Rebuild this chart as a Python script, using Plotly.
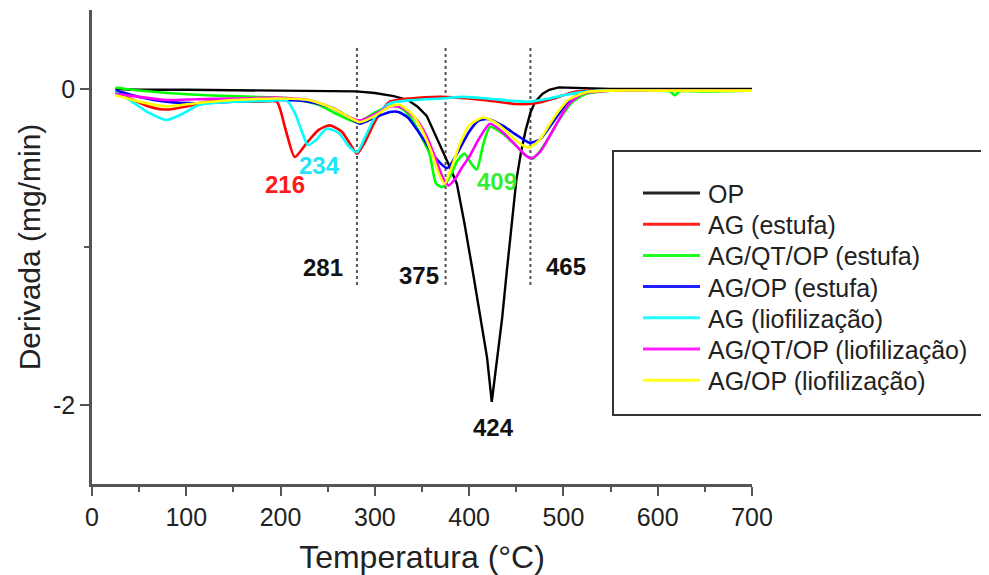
import plotly.graph_objects as go

# ---------------- data ----------------
temp_op = [25, 50, 100, 150, 200, 250, 280, 300, 320, 335, 345, 355, 365, 372, 380, 387,
           395, 404, 412, 419, 424, 428, 435, 440, 445, 450, 455, 460, 465, 470, 478, 485,
           495, 550, 600, 650, 700]
deriv_op = [0.0, -0.005, -0.005, -0.008, -0.008, -0.01, -0.015, -0.025, -0.045, -0.07, -0.11,
            -0.17, -0.3, -0.39, -0.5, -0.6, -0.85, -1.16, -1.45, -1.7, -1.98, -1.8, -1.45,
            -1.15, -0.85, -0.58, -0.4, -0.26, -0.15, -0.08, -0.03, -0.005, 0.01, 0.0, 0.0,
            0.0, 0.0]

temp_ag_est = [25, 40, 60, 79, 100, 122, 150, 180, 196, 205, 215, 228, 240, 252, 265, 275,
               281, 290, 298, 308, 316, 337, 370, 400, 430, 450, 470, 490, 510, 530, 560,
               600, 650, 700]
deriv_ag_est = [-0.02, -0.06, -0.11, -0.13, -0.11, -0.08, -0.08, -0.08, -0.08, -0.25, -0.43,
                -0.34, -0.26, -0.23, -0.27, -0.36, -0.41, -0.33, -0.23, -0.13, -0.08, -0.06,
                -0.05, -0.06, -0.08, -0.095, -0.09, -0.06, -0.02, -0.01, -0.01, -0.01, -0.01,
                -0.01]

temp_agqtop_est = [25, 50, 80, 122, 170, 210, 240, 260, 281, 300, 319, 330, 340, 350, 358,
                   365, 372, 380, 388, 395, 402, 408, 415, 422, 435, 450, 460, 468, 480, 495,
                   510, 524, 550, 600, 613, 618, 623, 650, 700]
deriv_agqtop_est = [0.01, -0.01, -0.025, -0.04, -0.05, -0.06, -0.1, -0.16, -0.21, -0.15, -0.1,
                    -0.13, -0.2, -0.31, -0.41, -0.6, -0.62, -0.55, -0.45, -0.41, -0.47, -0.51,
                    -0.35, -0.24, -0.28, -0.36, -0.42, -0.44, -0.35, -0.2, -0.08, -0.03, -0.01,
                    -0.01, -0.015, -0.04, -0.015, -0.015, -0.01]

temp_agop_est = [25, 50, 79, 110, 150, 200, 230, 255, 270, 284, 300, 316, 325, 335, 345, 355,
                 365, 377, 388, 400, 410, 419, 435, 450, 464, 475, 490, 505, 520, 550, 600,
                 650, 700]
deriv_agop_est = [-0.01, -0.05, -0.08, -0.09, -0.08, -0.07, -0.08, -0.12, -0.17, -0.22, -0.18,
                  -0.145, -0.145, -0.18, -0.26, -0.35, -0.44, -0.5, -0.4, -0.27, -0.2, -0.19,
                  -0.23, -0.29, -0.34, -0.32, -0.2, -0.08, -0.02, -0.01, -0.01, -0.01, -0.01]

temp_ag_lio = [25, 40, 60, 79, 95, 114, 150, 190, 206, 215, 222, 229, 238, 249, 262, 272, 281,
               290, 300, 316, 340, 370, 393, 420, 445, 464, 485, 500, 520, 540, 600, 650, 700]
deriv_ag_lio = [-0.02, -0.07, -0.15, -0.196, -0.16, -0.1, -0.08, -0.075, -0.07, -0.15, -0.26,
                -0.355, -0.32, -0.25, -0.28, -0.36, -0.4, -0.3, -0.18, -0.09, -0.07, -0.06,
                -0.05, -0.06, -0.075, -0.08, -0.06, -0.04, -0.02, -0.01, -0.01, -0.01, -0.01]

temp_agqtop_lio = [25, 50, 79, 110, 150, 200, 230, 255, 270, 284, 300, 316, 330, 345, 355,
                   365, 372, 378, 385, 392, 400, 410, 422, 435, 450, 460, 466, 475, 490, 505,
                   520, 550, 600, 650, 700]
deriv_agqtop_lio = [-0.03, -0.05, -0.07, -0.065, -0.06, -0.055, -0.07, -0.12, -0.17, -0.2,
                    -0.16, -0.11, -0.12, -0.2, -0.3, -0.45, -0.56, -0.61, -0.57, -0.5, -0.43,
                    -0.32, -0.22, -0.27, -0.36, -0.42, -0.44, -0.4, -0.25, -0.1, -0.03, -0.01,
                    -0.01, -0.01, -0.01]

temp_agop_lio = [25, 50, 79, 110, 150, 200, 230, 255, 270, 284, 300, 316, 326, 340, 350, 360,
                 368, 374, 380, 390, 400, 415, 430, 445, 455, 464, 475, 490, 505, 524, 550,
                 600, 650, 700]
deriv_agop_lio = [-0.04, -0.08, -0.11, -0.09, -0.07, -0.06, -0.07, -0.12, -0.17, -0.21, -0.17,
                  -0.11, -0.1, -0.16, -0.26, -0.4, -0.54, -0.6, -0.52, -0.35, -0.23, -0.18,
                  -0.22, -0.3, -0.35, -0.37, -0.32, -0.18, -0.07, -0.02, -0.01, -0.01, -0.01,
                  -0.01]

series_names = ["OP", "AG (estufa)", "AG/QT/OP (estufa)", "AG/OP (estufa)",
                "AG (liofilização)", "AG/QT/OP (liofilização)", "AG/OP (liofilização)"]
series_colors = ["#000000", "#ff0000", "#00ff00", "#0000ff", "#00ffff", "#ff00ff", "#ffff00"]
legend_colors = ["#222222", "#ff2020", "#20ff20", "#2020ff", "#20ffff", "#ff20ff", "#ffff20"]
series_temps = [temp_op, temp_ag_est, temp_agqtop_est, temp_agop_est, temp_ag_lio,
                temp_agqtop_lio, temp_agop_lio]
series_derivs = [deriv_op, deriv_ag_est, deriv_agqtop_est, deriv_agop_est, deriv_ag_lio,
                 deriv_agqtop_lio, deriv_agop_lio]

peak_lines = [281, 375, 465]
label_texts = ["216", "234", "409", "281", "375", "465", "424"]
label_x = [204.6, 241.7, 429.3, 244.9, 346.7, 502.5, 426.2]
label_y = [-0.606, -0.486, -0.587, -1.131, -1.181, -1.124, -2.141]
label_colors = ["#ff1a1a", "#22e5f5", "#33ee33", "#111111", "#111111", "#111111", "#111111"]

y_tickvals = [-2, 0]
y_ticktext = ["-2", "0"]

FONT = "Liberation Sans, Arial, sans-serif"

# page is offset by the 8px default body margin
OFF = 8
PL, PR, PT, PB = 92, 752, 10, 484          # plot area in page pixels


def px_x(p):
    return (p - PL) / (PR - PL)


def px_y(p):
    return (PB - p) / (PB - PT)


fig = go.Figure()
for name, col, tx, dy in zip(series_names, series_colors, series_temps, series_derivs):
    fig.add_trace(go.Scatter(
        x=tx, y=dy, name=name, mode="lines",
        line=dict(color=col, width=2.6 if name != "OP" else 2.4,
                  shape="linear" if name == "OP" else "spline", smoothing=0.6),
    ))

for xv in peak_lines:
    fig.add_shape(type="line", xref="x", yref="y", x0=xv, x1=xv, y0=0.26, y1=-1.25,
                  line=dict(color="#555555", width=2, dash="dot"), layer="below")

for t, xv, yv, c in zip(label_texts, label_x, label_y, label_colors):
    fig.add_annotation(x=xv, y=yv, xref="x", yref="y", text="<b>%s</b>" % t,
                       showarrow=False, font=dict(family=FONT, size=24, color=c))

# legend frame and entries
fig.add_shape(type="rect", xref="paper", yref="paper",
              x0=px_x(613), x1=px_x(984), y0=px_y(415), y1=px_y(151),
              line=dict(color="#333333", width=2), fillcolor="rgba(0,0,0,0)")
for i, (name, col) in enumerate(zip(series_names, legend_colors)):
    yc = 193 + 31.2 * i
    fig.add_shape(type="line", xref="paper", yref="paper",
                  x0=px_x(643), x1=px_x(700), y0=px_y(yc), y1=px_y(yc),
                  line=dict(color=col, width=3))
    fig.add_annotation(x=px_x(706), y=px_y(yc + 1), xref="paper", yref="paper",
                       text=name, showarrow=False, xanchor="left", yanchor="middle",
                       font=dict(family=FONT, size=25, color="#222222"))

fig.update_layout(
    width=989 - OFF, height=575 - OFF,
    margin=dict(l=PL - OFF, r=989 - PR, t=PT - OFF, b=575 - PB),
    paper_bgcolor="white", plot_bgcolor="white",
    font=dict(family=FONT, size=25, color="#222222"),
    showlegend=False,
    xaxis=dict(range=[0, 700], dtick=100, tick0=0, showgrid=False, zeroline=False,
               showline=True, linecolor="#555555", linewidth=2.5,
               ticks="outside", ticklen=9, tickwidth=2, tickcolor="#555555",
               minor=dict(dtick=50, ticks="outside", ticklen=5, tickwidth=2, tickcolor="#555555"),
               tickfont=dict(family=FONT, size=25, color="#222222"),
               title=dict(text="Temperatura (°C)", font=dict(family=FONT, size=32, color="#222222"),
                          standoff=16),
               automargin=False),
    yaxis=dict(range=[-2.5, 0.5], tickmode="array", tickvals=y_tickvals, ticktext=y_ticktext,
               showgrid=False, zeroline=False,
               showline=True, linecolor="#555555", linewidth=2.5,
               ticks="outside", ticklen=9, tickwidth=2, tickcolor="#555555",
               minor=dict(dtick=1, tick0=0, ticks="outside", ticklen=5, tickwidth=2,
                          tickcolor="#555555"),
               tickfont=dict(family=FONT, size=25, color="#222222"),
               title=dict(text="Derivada (mg/min)", font=dict(family=FONT, size=30, color="#222222"),
                          standoff=4),
               automargin=False),
)

fig.write_html("out.html")
